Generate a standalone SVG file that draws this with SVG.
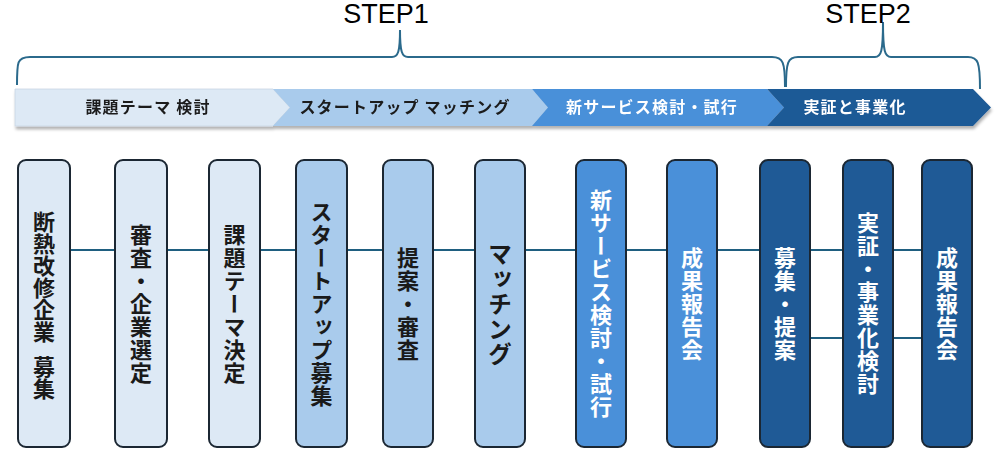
<svg xmlns="http://www.w3.org/2000/svg" width="1000" height="455" viewBox="0 0 1000 455">
<defs>
<filter id="sh" x="-5%" y="-20%" width="110%" height="160%"><feDropShadow dx="1" dy="3" stdDeviation="1.5" flood-color="#000" flood-opacity="0.3"/></filter>
<style>
.brace{fill:none;stroke:#2b6a8c;stroke-width:2}
.step{font-family:"Liberation Sans",Arial,sans-serif;font-size:27px;fill:#000;text-anchor:middle}
.cl{font-family:"Noto Sans CJK JP","Noto Sans",sans-serif;font-size:16px;font-weight:700;text-anchor:middle;letter-spacing:1.2px}
.box{stroke:#1b2733;stroke-width:2}
.vt{font-family:"Noto Sans CJK JP","Noto Sans",sans-serif;font-size:22px;font-weight:700;writing-mode:vertical-rl;text-orientation:upright;text-anchor:middle;letter-spacing:1px}
.conn{stroke:#1f5f80;stroke-width:2;fill:none}
.c1{fill:#dde9f5}.c2{fill:#a9cbec}.c3{fill:#4a90d9}.c4{fill:#1f5a96}
.dk{fill:#1a1a1a}.wt{fill:#fff}
</style>
</defs>
<rect width="1000" height="455" fill="#fff"/>
<g id="step1">
<path class="brace" d="M17,85 C17,62 17,57 30,57 L392,57 C398,57 400,52 400,30 M400,30 C400,52 402,57 408,57 L772,57 C783,57 785,62 785,87"/>
<text class="step" x="386" y="23">STEP1</text>
</g>
<g id="step2">
<path class="brace" d="M786,87 C786,62 788,57 798,57 L875,57 C881,57 883,52 883,22 M883,22 C883,52 885,57 891,57 L968,57 C978,57 980,62 980,89"/>
<text class="step" x="868" y="23">STEP2</text>
</g>
<g id="phases" filter="url(#sh)">
<g id="phase1"><path class="c1" d="M15,89 L273,89 L290,107.5 L273,126 L15,126 Z" stroke="#c9d6e3" stroke-width="0.8"/><text class="cl dk" x="148" y="113">課題テーマ 検討</text></g>
<g id="phase2"><path class="c2" d="M273,89 L532,89 L548,107.5 L532,126 L273,126 L290,107.5 Z"/><text class="cl dk" x="405" y="113">スタートアップ マッチング</text></g>
<g id="phase3"><path class="c3" d="M532,89 L767,89 L784,107.5 L767,126 L532,126 L548,107.5 Z"/><text class="cl wt" x="652" y="113">新サービス検討・試行</text></g>
<g id="phase4"><path class="c4" d="M767,89 L973,89 L991,107.5 L973,126 L767,126 L784,107.5 Z"/><text class="cl wt" x="855" y="113">実証と事業化</text></g>
</g>
<g id="connectors">
<line class="conn" x1="70" y1="250" x2="115" y2="250"/>
<line class="conn" x1="167" y1="250" x2="209" y2="250"/>
<line class="conn" x1="260" y1="250" x2="296" y2="250"/>
<line class="conn" x1="347" y1="250" x2="383" y2="250"/>
<line class="conn" x1="433" y1="250" x2="475" y2="250"/>
<line class="conn" x1="525" y1="250" x2="576" y2="250"/>
<line class="conn" x1="626" y1="250" x2="667" y2="250"/>
<line class="conn" x1="717" y1="250" x2="760" y2="250"/>
<line class="conn" x1="810" y1="250" x2="843" y2="250"/>
<line class="conn" x1="893" y1="250" x2="922" y2="250"/>
<line class="conn" x1="810" y1="338" x2="843" y2="338"/>
<line class="conn" x1="893" y1="338" x2="922" y2="338"/>
</g>
<g id="n1"><rect class="box c1" x="18" y="160" width="52" height="287" rx="8"/><text class="vt dk" x="44" y="211" style="text-anchor:start;letter-spacing:0">断熱改修企業</text><text class="vt dk" x="44" y="356" style="text-anchor:start;letter-spacing:0">募集</text></g>
<g id="n2"><rect class="box c1" x="115" y="160" width="52" height="287" rx="8"/><text class="vt dk" x="141" y="304">審査・企業選定</text></g>
<g id="n3"><rect class="box c1" x="209" y="160" width="51" height="287" rx="8"/><text class="vt dk" x="234.5" y="304">課題テーマ決定</text></g>
<g id="n4"><rect class="box c2" x="296" y="160" width="51" height="287" rx="8"/><text class="vt dk" x="321.5" y="304">スタートアップ募集</text></g>
<g id="n5"><rect class="box c2" x="383" y="160" width="50" height="287" rx="8"/><text class="vt dk" x="408" y="304">提案・審査</text></g>
<g id="n6"><rect class="box c2" x="475" y="160" width="50" height="287" rx="8"/><text class="vt dk" x="500" y="304" style="font-size:24px">マッチング</text></g>
<g id="n7"><rect class="box c3" x="576" y="160" width="50" height="287" rx="8"/><text class="vt wt" x="601" y="304">新サービス検討・試行</text></g>
<g id="n8"><rect class="box c3" x="667" y="160" width="50" height="287" rx="8"/><text class="vt wt" x="692" y="304">成果報告会</text></g>
<g id="n9"><rect class="box c4" x="760" y="160" width="50" height="287" rx="8"/><text class="vt wt" x="785" y="304">募集・提案</text></g>
<g id="n10"><rect class="box c4" x="843" y="160" width="50" height="287" rx="8"/><text class="vt wt" x="868" y="304">実証・事業化検討</text></g>
<g id="n11"><rect class="box c4" x="922" y="160" width="50" height="287" rx="8"/><text class="vt wt" x="947" y="304">成果報告会</text></g>
</svg>
